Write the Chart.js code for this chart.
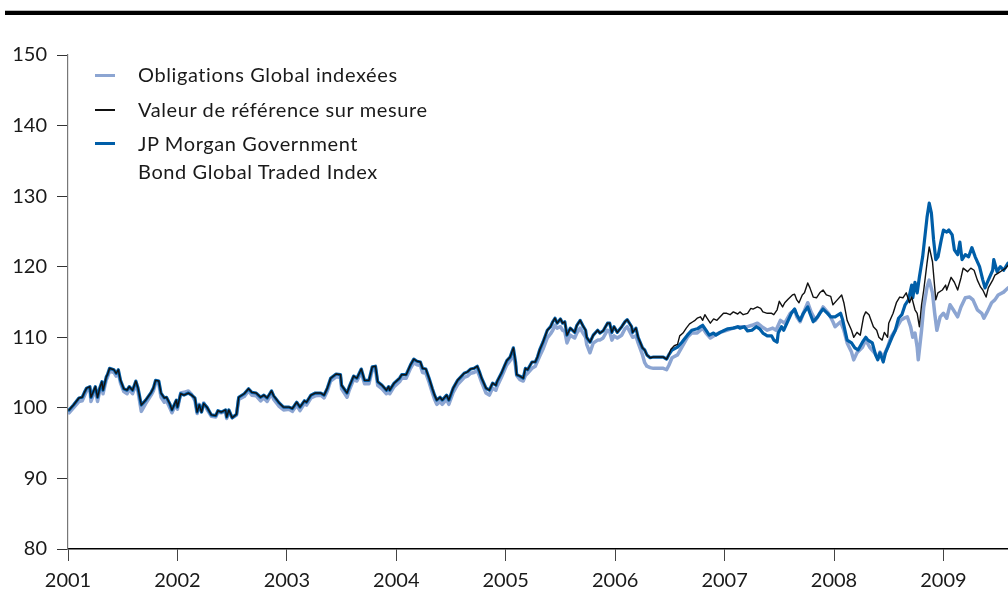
<!DOCTYPE html>
<html>
<head>
<meta charset="utf-8">
<script src="https://cdn.jsdelivr.net/npm/chart.js@4.4.0/dist/chart.umd.min.js"></script>
<style>
  body { margin: 0; background: #fff; }
  #wrap { position: relative; width: 1008px; height: 595px; }
  #topbar { position: absolute; left: 5px; top: 10px; width: 1003px; height: 4px; background: #000; border-top: 1px solid #bbb; }
  .key { position: absolute; font-family: Lato, sans-serif; font-size: 20px; letter-spacing: 0.6px; color: #1a1a1a; line-height: 27px; white-space: nowrap; }
  .sw { position: absolute; left: 95px; width: 20px; }
</style>
</head>
<body>
<div id="wrap">
  <canvas id="chart" width="1008" height="595"></canvas>
  <div id="topbar"></div>
  <div class="sw" style="top:74px;height:3px;background:#8ca5d2"></div>
  <div class="key" style="left:138px;top:61px">Obligations Global indexées</div>
  <div class="sw" style="top:109px;height:1.5px;background:#111"></div>
  <div class="key" style="left:138px;top:96px">Valeur de référence sur mesure</div>
  <div class="sw" style="top:142px;height:3px;background:#005ea8"></div>
  <div class="key" style="left:138px;top:129px;line-height:28px">JP Morgan Government<br>Bond Global Traded Index</div>
</div>
<script>
// shared weekly-ish grid up to mid 2006, where the three series still overlap
const earlyYears = [
  2001.01,2001.05,2001.10,2001.13,2001.15,2001.17,2001.20,2001.21,2001.25,2001.27,2001.29,2001.31,2001.32,2001.35,2001.36,2001.38,2001.42,2001.44,2001.46,2001.48,2001.51,2001.54,2001.56,2001.59,2001.62,2001.64,2001.67,2001.71,2001.76,2001.78,2001.80,2001.83,2001.85,2001.88,2001.90,2001.93,2001.95,2001.99,
  2002.00,2002.03,2002.06,2002.10,2002.13,2002.16,2002.18,2002.20,2002.22,2002.24,2002.27,2002.31,2002.35,2002.37,2002.40,2002.44,2002.45,2002.47,2002.50,2002.54,2002.56,2002.61,2002.65,2002.68,2002.72,2002.76,2002.79,2002.82,2002.86,2002.88,2002.93,2002.97,
  2003.02,2003.05,2003.09,2003.12,2003.16,2003.18,2003.22,2003.26,2003.31,2003.34,2003.37,2003.40,2003.45,2003.49,2003.50,2003.55,2003.57,2003.61,2003.64,2003.68,2003.71,2003.75,2003.78,2003.81,2003.83,2003.87,2003.91,2003.93,2003.94,2003.98,
  2004.03,2004.05,2004.09,2004.13,2004.16,2004.19,2004.22,2004.24,2004.27,2004.30,2004.33,2004.35,2004.37,2004.40,2004.42,2004.46,2004.48,2004.52,2004.56,2004.59,2004.62,2004.65,2004.68,2004.71,2004.74,2004.76,2004.78,2004.82,2004.85,2004.88,2004.91,2004.92,2004.96,2004.99,
  2005.01,2005.04,2005.07,2005.09,2005.10,2005.13,2005.16,2005.18,2005.20,2005.24,2005.27,2005.29,2005.31,2005.34,2005.38,2005.41,2005.43,2005.45,2005.47,2005.50,2005.52,2005.54,2005.56,2005.59,2005.63,2005.65,2005.68,2005.71,2005.73,2005.74,2005.77,2005.80,2005.84,2005.86,2005.89,2005.93,2005.95,2005.97,2005.99,
  2006.02,2006.06,2006.09,2006.11,2006.15,2006.16,2006.19,2006.21,2006.25,2006.27,2006.29,2006.32,2006.35,2006.38,2006.41,2006.44,2006.47,2006.49
];

const refEarly = [
  99.7,100.4,101.4,101.5,102.2,102.8,103.0,101.5,103.0,101.5,102.8,103.7,102.5,104.4,104.7,105.6,105.4,104.9,105.4,103.9,102.7,102.5,103.0,102.5,103.8,102.8,100.4,101.1,102.2,102.8,103.9,103.8,102.1,101.4,101.5,100.6,99.7,101.1,
  100.1,102.0,101.8,102.1,101.8,101.4,99.4,100.4,99.4,100.6,100.1,99.0,98.9,99.6,99.4,99.7,98.7,99.7,98.6,99.1,101.5,102.0,102.7,102.2,102.1,101.5,101.8,101.4,102.4,101.7,100.7,100.1,
  100.1,99.9,100.8,100.1,101.0,100.8,101.8,102.1,102.1,101.8,102.8,104.2,104.8,104.7,103.2,102.1,103.0,104.5,104.2,105.5,103.9,103.9,105.8,105.9,103.7,103.2,102.5,103.0,102.5,103.5,
  104.2,104.7,104.7,106.1,106.9,106.6,106.5,105.6,105.5,104.2,102.7,101.8,101.1,101.5,101.1,101.8,101.1,102.8,103.9,104.4,104.9,105.1,105.5,105.6,105.9,105.1,104.2,102.8,102.5,103.5,103.2,103.7,104.9,106.0,
  106.7,107.2,108.5,106.5,104.7,104.5,104.2,105.6,105.4,106.5,106.5,107.2,108.2,109.3,111.0,111.5,112.2,112.7,112.0,112.6,112.0,112.2,110.3,111.3,110.7,111.7,112.4,111.5,111.0,110.0,109.3,110.3,111.0,110.6,110.9,112.0,112.0,110.7,111.5,
  110.7,111.5,112.2,112.5,111.5,110.7,111.3,110.0,108.5,108.2,107.5,107.1,107.2,107.2,107.2,107.2,106.9,107.5
];

const jpmEarly = [
  99.7,100.4,101.4,101.5,102.2,102.8,103.0,101.5,103.0,101.5,102.8,103.7,102.5,104.4,104.7,105.6,105.4,104.9,105.4,103.9,102.7,102.5,103.0,102.5,103.8,102.8,100.4,101.1,102.2,102.8,103.9,103.8,102.1,101.4,101.5,100.6,99.7,101.1,
  100.1,102.0,101.8,102.1,101.8,101.4,99.4,100.4,99.4,100.6,100.1,99.0,98.9,99.6,99.4,99.7,98.7,99.7,98.6,99.1,101.5,102.0,102.7,102.2,102.1,101.5,101.8,101.4,102.4,101.7,100.7,100.1,
  100.1,99.9,100.8,100.1,101.0,100.8,101.8,102.1,102.1,101.8,102.8,104.2,104.8,104.7,103.2,102.1,103.0,104.5,104.2,105.5,103.9,103.9,105.8,105.9,103.7,103.2,102.5,103.0,102.5,103.5,
  104.2,104.7,104.7,106.1,106.9,106.6,106.5,105.6,105.5,104.2,102.7,101.8,101.1,101.5,101.1,101.8,101.1,102.8,103.9,104.4,104.9,105.1,105.5,105.6,105.9,105.1,104.2,102.8,102.5,103.5,103.2,103.7,104.9,106.0,
  106.7,107.2,108.5,106.5,104.7,104.5,104.2,105.6,105.4,106.5,106.5,107.2,108.2,109.3,111.0,111.5,112.2,112.7,112.0,112.6,112.0,112.2,110.3,111.3,110.7,111.7,112.4,111.5,111.0,110.0,109.3,110.3,111.0,110.6,110.9,112.0,112.0,110.7,111.5,
  110.7,111.5,112.2,112.5,111.5,110.7,111.3,110.0,108.5,108.2,107.5,107.1,107.2,107.2,107.2,107.2,106.9,107.5
];

const oblEarly = [
  99.3,100.0,100.9,101.0,101.7,102.4,102.7,100.9,102.6,100.9,102.4,103.3,102.0,104.0,104.3,105.2,105.0,104.5,105.0,103.5,102.3,102.0,102.6,102.0,103.3,102.3,99.5,100.6,101.8,102.4,103.5,103.4,101.5,100.8,101.0,100.0,99.3,100.7,
  99.8,102.1,102.2,102.4,101.9,101.0,99.2,100.5,99.5,100.7,99.8,98.8,98.7,99.4,99.3,99.5,98.5,99.4,98.6,99.0,101.2,101.6,102.4,101.8,101.7,101.0,101.4,100.9,102.0,101.2,100.2,99.7,
  99.8,99.5,100.4,99.6,100.6,100.4,101.4,101.7,101.8,101.4,102.4,103.8,104.4,104.3,102.7,101.5,102.5,104.0,103.8,105.0,103.4,103.4,105.3,105.5,103.2,102.7,102.0,102.6,102.0,103.0,
  103.7,104.2,104.2,105.6,106.4,106.1,106.0,105.0,104.9,103.6,102.1,101.2,100.5,100.9,100.5,101.2,100.5,102.2,103.3,103.8,104.3,104.5,104.9,105.0,105.3,104.5,103.6,102.1,101.8,102.8,102.5,103.0,104.3,105.4,
  106.1,106.7,107.5,105.9,104.6,104.0,103.8,104.6,104.9,105.6,105.9,106.6,107.3,108.3,109.9,110.5,111.0,111.7,111.3,111.5,111.0,110.8,109.2,110.3,109.9,110.6,111.3,110.5,110.0,109.0,107.8,109.2,109.6,109.6,109.9,111.0,110.8,109.6,110.2,
  109.9,110.3,111.2,111.5,110.3,110.0,110.2,109.2,107.5,106.4,105.9,105.7,105.6,105.6,105.6,105.6,105.4,106.0
];

// after mid 2006 each series has its own turning points
const refLateYears = [
  2006.51,2006.54,2006.57,2006.59,2006.62,2006.65,2006.68,2006.71,2006.73,2006.75,2006.78,2006.80,2006.82,2006.84,2006.87,2006.90,2006.93,2006.96,2006.99,
  2007.02,2007.05,2007.08,2007.12,2007.14,2007.17,2007.21,2007.24,2007.26,2007.30,2007.33,2007.35,2007.39,2007.43,2007.45,2007.48,2007.50,2007.53,2007.55,2007.58,2007.62,2007.64,2007.66,2007.68,2007.71,2007.73,2007.76,2007.78,2007.81,2007.84,2007.87,2007.90,2007.93,2007.97,2007.99,
  2008.03,2008.07,2008.09,2008.12,2008.16,2008.18,2008.21,2008.24,2008.27,2008.29,2008.32,2008.36,2008.39,2008.41,2008.44,2008.46,2008.49,2008.50,2008.54,2008.57,2008.60,2008.63,2008.66,2008.69,2008.71,2008.74,2008.76,2008.78,2008.80,2008.82,2008.85,2008.87,2008.90,2008.92,2008.93,2008.95,2008.99,
  2009.02,2009.03,2009.07,2009.10,2009.13,2009.16,2009.18,2009.22,2009.25,2009.28,2009.31,2009.34,2009.36,2009.39,2009.41,2009.45,2009.47,2009.50,2009.54,2009.57,2009.59
];
const refLate = [
  108.3,108.8,109.0,110.2,110.6,111.3,111.9,112.2,112.4,112.7,112.9,112.4,113.2,112.7,112.0,112.6,112.4,112.9,113.4,
  113.4,113.2,113.6,113.3,113.6,113.2,113.4,114.1,114.0,114.3,114.1,113.6,113.4,113.4,113.2,113.9,115.1,114.3,114.9,115.4,116.0,116.1,115.3,114.9,116.0,116.3,117.7,117.0,115.7,115.6,116.3,116.7,116.0,115.8,114.6,
  115.3,116.0,114.9,112.4,111.0,110.0,110.7,110.3,112.9,113.6,113.2,111.5,111.0,110.0,109.6,110.7,110.0,112.0,113.4,114.9,115.7,115.6,116.3,114.9,115.7,113.9,113.4,111.5,114.6,116.7,120.5,122.8,120.7,117.1,115.3,116.3,116.7,
  117.4,116.7,118.5,117.8,116.7,118.4,119.8,119.3,119.8,119.5,118.1,117.1,116.7,115.7,117.0,118.1,118.8,119.1,119.5,119.8,120.2
];

const jpmLateYears = [
  2006.52,2006.57,2006.61,2006.66,2006.70,2006.75,2006.78,2006.80,2006.83,2006.86,2006.90,2006.92,2006.96,
  2007.00,2007.03,2007.08,2007.12,2007.14,2007.18,2007.21,2007.25,2007.29,2007.32,2007.35,2007.39,2007.43,2007.45,2007.48,2007.49,2007.52,2007.54,2007.57,2007.61,2007.64,2007.66,2007.69,2007.72,2007.76,2007.78,2007.81,2007.85,2007.87,2007.90,2007.94,2007.97,
  2008.01,2008.06,2008.08,2008.12,2008.16,2008.19,2008.22,2008.26,2008.29,2008.31,2008.35,2008.38,2008.40,2008.42,2008.45,2008.47,2008.50,2008.53,2008.56,2008.59,2008.62,2008.65,2008.68,2008.71,2008.72,2008.74,2008.76,2008.78,2008.81,2008.83,2008.85,2008.87,2008.89,2008.91,2008.93,2008.95,2008.98,
  2009.00,2009.03,2009.05,2009.08,2009.10,2009.13,2009.15,2009.17,2009.20,2009.23,2009.26,2009.29,2009.33,2009.36,2009.38,2009.41,2009.45,2009.46,2009.49,2009.52,2009.55,2009.59
];
const jpmLate = [
  108.2,108.6,109.3,110.3,111.0,111.2,111.5,111.7,111.0,110.3,110.6,110.3,110.7,
  111.0,111.2,111.3,111.5,111.3,111.5,110.9,111.0,111.5,111.2,110.6,110.2,110.2,109.6,109.3,110.6,111.5,111.0,112.0,113.4,114.0,113.2,112.4,113.4,114.3,113.4,112.2,112.9,113.4,114.0,113.4,112.9,
  112.9,113.4,112.4,109.6,109.2,108.5,108.2,109.3,110.0,109.6,109.2,107.5,106.8,107.8,106.5,107.8,108.9,110.0,111.0,112.7,113.2,114.6,115.3,117.4,115.6,117.8,116.3,118.5,121.4,124.2,127.0,129.0,127.6,123.8,121.0,121.4,123.8,
  125.2,124.9,125.2,124.5,122.4,121.7,123.5,121.0,121.7,121.4,122.7,121.4,120.0,118.1,117.0,118.1,119.5,121.0,119.3,120.0,119.5,120.5
];

const oblLateYears = [
  2006.52,2006.57,2006.61,2006.66,2006.70,2006.75,2006.80,2006.83,2006.87,2006.91,2006.96,
  2007.02,2007.08,2007.14,2007.21,2007.25,2007.30,2007.34,2007.39,2007.44,2007.47,2007.51,2007.55,2007.60,2007.64,2007.66,2007.69,2007.72,2007.76,2007.79,2007.83,2007.87,2007.90,2007.95,2007.99,
  2008.01,2008.06,2008.09,2008.12,2008.16,2008.18,2008.21,2008.26,2008.29,2008.33,2008.37,2008.40,2008.42,2008.45,2008.49,2008.52,2008.56,2008.61,2008.64,2008.67,2008.70,2008.72,2008.74,2008.76,2008.77,2008.80,2008.82,2008.85,2008.87,2008.90,2008.92,2008.94,2008.97,
  2009.00,2009.03,2009.06,2009.09,2009.13,2009.16,2009.20,2009.24,2009.27,2009.31,2009.35,2009.37,2009.40,2009.44,2009.47,2009.50,2009.55,2009.59
];
const oblLate = [
  107.1,107.5,108.6,110.0,110.6,110.6,111.3,110.6,109.9,110.3,110.7,
  111.0,111.3,111.5,111.5,111.7,112.0,111.5,111.0,111.3,111.0,112.4,112.0,113.4,113.9,112.9,112.2,113.4,114.9,113.6,112.4,113.4,114.3,113.4,112.2,
  111.5,112.2,111.0,109.2,107.9,106.8,107.8,108.6,109.6,108.5,107.8,107.1,107.9,107.2,108.6,110.0,111.0,112.4,112.7,112.9,111.5,110.0,110.6,108.6,106.8,111.0,114.3,117.1,118.1,116.3,113.4,111.0,112.9,
  113.4,112.7,114.6,113.9,112.9,114.3,115.6,115.7,115.3,113.9,113.4,112.7,113.6,114.9,115.3,116.0,116.4,117.0
];

const yearTicks = [2001, 2002, 2003, 2004, 2005, 2006, 2007, 2008, 2009];

function toPoints(xs, ys) {
  return xs.map((x, i) => ({ x: x, y: ys[i] }));
}

const font = { family: 'Lato, sans-serif', size: 20 };

new Chart(document.getElementById('chart'), {
  type: 'line',
  data: {
    datasets: [
      {
        label: 'Valeur de référence sur mesure',
        data: toPoints(earlyYears, refEarly).concat(toPoints(refLateYears, refLate)),
        borderColor: '#111',
        borderWidth: 1.4,
        order: 1
      },
      {
        label: 'JP Morgan Government Bond Global Traded Index',
        data: toPoints(earlyYears, jpmEarly).concat(toPoints(jpmLateYears, jpmLate)),
        borderColor: '#005ea8',
        borderWidth: 3.2,
        order: 2
      },
      {
        label: 'Obligations Global indexées',
        data: toPoints(earlyYears, oblEarly).concat(toPoints(oblLateYears, oblLate)),
        borderColor: '#8ca5d2',
        borderWidth: 3.5,
        order: 3
      }
    ]
  },
  options: {
    responsive: false,
    animation: false,
    layout: { padding: { top: 55, left: 0, right: 0, bottom: 0 } },
    elements: {
      point: { radius: 0 },
      line: { tension: 0, borderJoinStyle: 'round', borderCapStyle: 'round' }
    },
    plugins: { legend: { display: false }, tooltip: { enabled: false } },
    scales: {
      x: {
        type: 'linear',
        min: 2001,
        max: 2009.59,
        afterFit: (s) => { s.height = 46; },
        afterBuildTicks: (s) => { s.ticks = yearTicks.map(v => ({ value: v })); },
        ticks: {
          font: font,
          color: '#1a1a1a',
          padding: 8,
          maxRotation: 0,
          autoSkip: false,
          callback: (v) => String(v)
        },
        grid: { drawOnChartArea: false, drawTicks: true, tickLength: 12, color: '#444' },
        border: { display: true, color: '#000', width: 1.5 }
      },
      y: {
        min: 80,
        max: 150,
        afterFit: (s) => { s.width = 68; },
        ticks: { stepSize: 10, font: font, color: '#1a1a1a', padding: 10 },
        grid: { drawOnChartArea: false, drawTicks: true, tickLength: 11, color: '#333' },
        border: { display: true, color: '#777', width: 1.2 }
      }
    }
  }
});
</script>
</body>
</html>
